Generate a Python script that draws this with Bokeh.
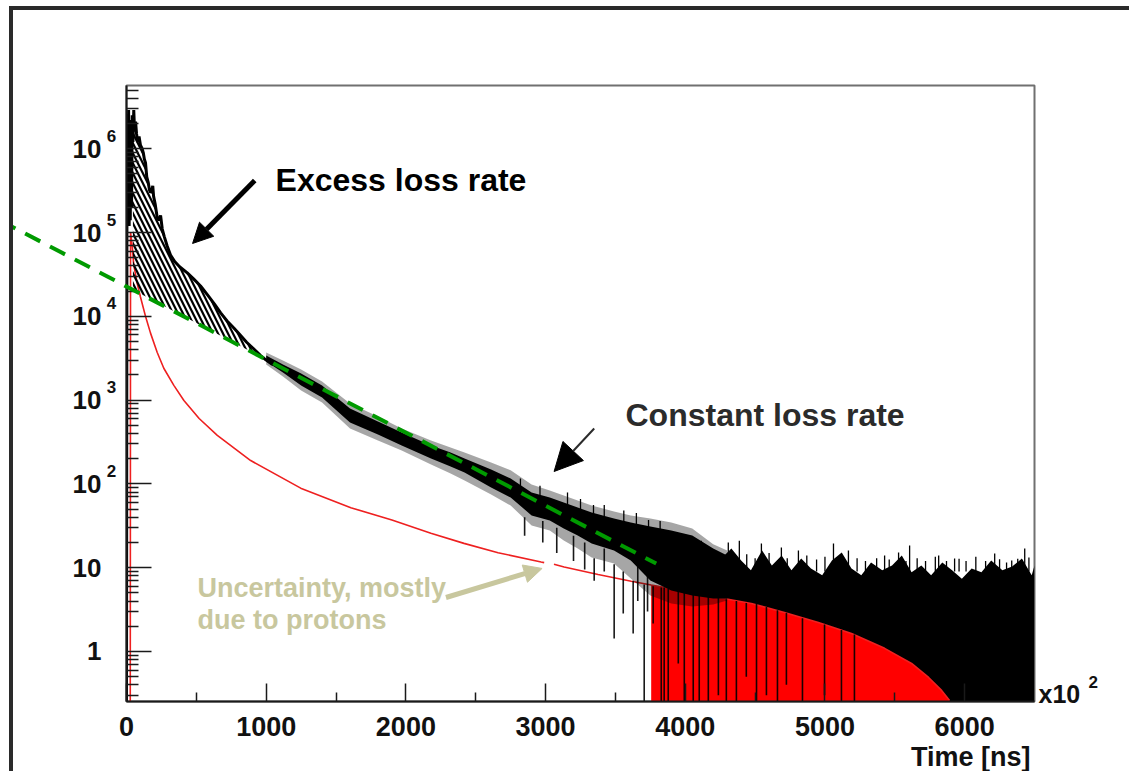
from bokeh.plotting import figure
from bokeh.models import FixedTicker, Label, Arrow, NormalHead
from bokeh.core.properties import value
from bokeh.embed import file_html
from bokeh.resources import INLINE

FONT = "Liberation Sans"

# ---------------- axis ticks ----------------
x_major = [0, 1000, 2000, 3000, 4000, 5000, 6000]
x_minor = [500, 1500, 2500, 3500, 4500, 5500]
y_major = [1, 10, 100, 1000, 10000, 100000, 1000000]
y_labels = ["1", "10", "10", "10", "10", "10", "10"]
y_exp_at = [100, 1000, 10000, 100000, 1000000]
y_exponents = ["2", "3", "4", "5", "6"]

# ---------------- data ----------------
# black histogram, early part (top of the hatched excess)
early_t = [0, 3, 7, 11, 15, 19, 23, 27, 31, 36,
           41, 46, 52, 58, 65, 72, 80, 90, 100, 112,
           120, 128, 136, 145, 155, 165, 172, 180, 188, 194,
           205, 220, 232, 244, 256, 270, 290, 315, 345, 380,
           435, 480, 530, 580, 630, 674, 720, 770, 817, 860,
           910, 960, 1000, 1040, 1080]
early_v = [0.2, 1.1e5, 2.6e6, 1.6e5, 2.9e6, 1.2e5, 2.2e6, 1.4e5, 1.8e6, 2.0e5,
           2.5e6, 1.2e6, 2.9e6, 1.6e6, 2.1e6, 1.5e6, 1.2e6, 1.4e6, 1.1e6, 1.0e6,
           9.0e5, 7.5e5, 6.8e5, 4.6e5, 4.0e5, 3.2e5, 3.0e5, 3.1e5, 3.6e5, 2.7e5,
           2.2e5, 1.5e5, 1.4e5, 1.6e5, 1.1e5, 9.0e4, 7.0e4, 5.4e4, 4.5e4, 3.9e4,
           3.3e4, 2.8e4, 2.3e4, 1.8e4, 1.4e4, 1.1e4, 8.8e3, 7.2e3, 5.9e3, 4.9e3,
           4.1e3, 3.4e3, 3.0e3, 2.7e3, 2.6e3]

# lower edge of the hatched excess (on the constant-loss line)
hatch_floor_t = [46, 1080]
hatch_floor_v = [2.08e4, 2.6e3]

# noisy band of the black histogram: outer (fuzzy) and core envelopes
band_t = [1000, 1120, 1250, 1400, 1600, 1800, 1970, 2180, 2320, 2420,
          2610, 2750, 2900, 3030, 3130, 3230, 3330, 3490, 3610, 3750,
          3900, 4050, 4200, 4300]
band_outer_hi = [3700, 2970, 2317, 1667, 910, 637, 458, 330, 272, 237,
                 180, 145, 98.4, 83.4, 72.7, 63.4, 55.2, 46.9, 42.0, 38.6,
                 34.6, 29.4, 19.0, 16.0]
band_core_hi = [3405, 2660, 2075, 1493, 794, 556, 410, 287, 237, 201,
                149, 116, 78.9, 68.8, 60.0, 52.2, 45.6, 38.6, 34.6, 31.0,
                27.8, 24.2, 17.0, 14.0]
band_core_lo = [2890, 2134, 1493, 1074, 541, 388, 287, 201, 161, 137,
                90.6, 68.8, 42.0, 36.6, 29.4, 24.2, 19.4, 16.0, 12.2, 7.03,
                5.35, 4.66, 4.29, 4.29]
band_outer_lo = [2660, 1914, 1303, 935, 458, 330, 250, 170, 133, 110,
                 74.7, 55.2, 31.9, 27.8, 21.1, 16.9, 13.2, 11.2, 7.43, 4.66,
                 3.74, 3.44, 3.64, 4.06]

# tail of the black histogram (filled down to the axis)
tail_t = [4120, 4190, 4260, 4330, 4400, 4470, 4550, 4620, 4690, 4760,
          4830, 4900, 4980, 5050, 5120, 5190, 5260, 5330, 5410, 5480,
          5550, 5620, 5690, 5760, 5840, 5910, 5980, 6050, 6120, 6190,
          6270, 6340, 6410, 6480, 6500]
tail_hi = [18.0, 16.0, 13.0, 16.9, 12.2, 9.3, 16.0, 10.6, 14.0, 9.3,
           12.9, 9.8, 8.1, 12.2, 15.2, 9.8, 8.1, 11.5, 9.3, 10.6,
           14.0, 8.8, 10.6, 8.1, 11.5, 9.3, 7.4, 9.8, 8.8, 12.2,
           9.3, 10.3, 12.9, 8.1, 10.6]
y_floor = 0.2

# upward spikes of the histogram
up_t = [2820, 2960, 3157, 3250, 3343, 3420, 3560, 3650, 3737, 3820,
        3900, 4115, 4160, 4230, 4308, 4387, 4440, 4500, 4545, 4600,
        4688, 4730, 4810, 4870, 4940, 5000, 5061, 5100, 5168, 5230,
        5290, 5370, 5427, 5460, 5527, 5580, 5606, 5660, 5720, 5790,
        5814, 5870, 5928, 5960, 6010, 6080, 6150, 6215, 6250, 6300,
        6337, 6380, 6430, 6460]
up_v = [116, 95, 79, 66, 56, 56, 48, 45, 37, 36,
        26, 21, 15, 13, 20, 21, 14.5, 13, 19.4, 15,
        17.4, 13, 16, 14, 12.5, 13.5, 19.4, 12, 16, 13,
        12, 13, 14, 12.5, 15.2, 12, 18.4, 13, 12, 13.5,
        14, 12, 12.9, 12.8, 12, 13.5, 12, 14.8, 12.6, 11.5,
        12.2, 12.8, 16.9, 13.2]
up_base = [70, 55, 45, 40, 35, 30, 25, 22, 18, 16,
           14, 12, 9, 9, 9, 9, 9, 9, 9, 9,
           9, 9, 9, 9, 9, 9, 9, 9, 9, 9,
           9, 9, 9, 9, 9, 9, 9, 9, 9, 9,
           9, 9, 9, 9, 9, 9, 9, 9, 9, 9,
           9, 9, 9, 9]

# downward spikes (empty / low bins)
down_t = [2850, 2980, 3080, 3200, 3280, 3348, 3420, 3491, 3556, 3627,
          3660, 3706, 3730, 3770, 3828, 3849, 3878, 3950, 3993, 4057,
          4100, 4165, 4237, 4294, 4366, 4437, 4510, 4581, 4660, 4724,
          4839, 4997, 5118, 5211]
down_hi = [40, 36, 30, 24, 20, 13, 17, 11, 9, 7,
           12, 6.3, 8, 6, 5.8, 5.8, 5.6, 5.3, 5.2, 4.9,
           4.7, 4.5, 4.4, 4.2, 4.0, 3.8, 3.7, 3.4, 3.1, 2.9,
           2.5, 2.1, 1.8, 1.6]
down_lo = [24, 20, 15, 12, 9.5, 7.0, 9, 1.43, 2.84, 1.64,
           4, 0.2, 3, 2.16, 0.2, 0.2, 0.2, 0.72, 0.2, 0.2,
           0.2, 0.2, 0.3, 0.2, 0.2, 0.5, 0.2, 0.3, 0.2, 0.4,
           0.2, 0.3, 0.2, 0.25]

# red curve (expected loss), with the gap of the uncertainty
red_t = [27, 29, 41, 52, 76, 100, 136, 172, 220, 267,
         339, 411, 520, 650, 889, 1247, 1606, 1900, 2179, 2416,
         2660, 2968, 2990, float("nan"), 3060, 3133, 3376, 3613, 3756, 3993,
         4237, 4473, 4710, 4953, 5190, 5427, 5620, 5742, 5835, 5892]
red_v = [0.2, 1.0e5, 6.9e4, 4.1e4, 2.5e4, 1.7e4, 1.0e4, 6.3e3, 3.7e3, 2.4e3,
         1.5e3, 990, 603, 380, 190, 89, 52, 37, 25.7, 19.5,
         15.1, 11.7, 11.5, float("nan"), 11.0, 10.2, 8.3, 6.9, 6.2, 5.3,
         4.41, 3.74, 2.92, 2.22, 1.64, 1.09, 0.72, 0.49, 0.343, 0.26]
red_fill_start = 3740

# constant loss rate line (dashed green)
green_t = [-903, 3792]
green_v = [1.39e5, 11.2]

# ---------------- figure ----------------
p = figure(width=1120, height=765, x_range=(0, 6500), y_range=(0.253, 5.68e6),
           y_axis_type="log", output_backend="svg", toolbar_location=None,
           min_border_left=113, min_border_right=99, min_border_top=75,
           min_border_bottom=74, background_fill_color="white",
           border_fill_color="white")
# the slide frame around the chart
p.styles = {"margin-left": "9px", "margin-top": "6px",
            "border-left": "4px solid #2a2a2a", "border-top": "4px solid #2a2a2a"}
p.grid.visible = False
p.outline_line_color = "#707070"
p.outline_line_width = 2

xa = p.xaxis[0]
xa.ticker = FixedTicker(ticks=x_major, minor_ticks=x_minor)
xa.major_tick_in = 18
xa.major_tick_out = 0
xa.minor_tick_in = 9
xa.minor_tick_out = 0
xa.axis_line_width = 2
xa.axis_line_color = "#1a1a1a"
xa.major_tick_line_color = "#1a1a1a"
xa.minor_tick_line_color = "#1a1a1a"
xa.major_tick_line_width = 1.5
xa.minor_tick_line_width = 1.5
xa.major_label_text_font = FONT
xa.major_label_text_font_style = "bold"
xa.major_label_text_font_size = "27px"
xa.major_label_text_color = "#111111"
xa.major_label_standoff = 15

y_minor = []
for k in range(-1, 7):
    for m in range(2, 10):
        y_minor.append(m * 10.0 ** k)

ya = p.yaxis[0]
ya.ticker = FixedTicker(ticks=y_major, minor_ticks=y_minor)
ya.major_tick_in = 25
ya.major_tick_out = 0
ya.minor_tick_in = 12
ya.minor_tick_out = 0
ya.axis_line_width = 2
ya.axis_line_color = "#1a1a1a"
ya.major_tick_line_color = "#1a1a1a"
ya.minor_tick_line_color = "#1a1a1a"
ya.major_tick_line_width = 1.5
ya.minor_tick_line_width = 1.5
ya.major_label_text_font = FONT
ya.major_label_text_font_style = "bold"
ya.major_label_text_font_size = "26px"
ya.major_label_text_color = "#111111"
ya.major_label_standoff = 25
ya.major_label_overrides = {t: s for t, s in zip(y_major, y_labels)}

# exponents of the y tick labels (unclipped text glyphs)
p.text(x=[0] * len(y_exp_at), y=y_exp_at, text=y_exponents, x_offset=-15, y_offset=-13,
       text_align="center", text_baseline="middle", text_font=value(FONT),
       text_font_style="bold", text_font_size="17px", text_color="#111111",
       level="overlay")

# ---------------- data marks ----------------
p.varea(x=tail_t, y1=[y_floor] * len(tail_t), y2=tail_hi, fill_color="black")

fill_t = [t for t in red_t if t >= red_fill_start]
fill_v = [v for t, v in zip(red_t, red_v) if t >= red_fill_start]
p.varea(x=fill_t, y1=[y_floor] * len(fill_t), y2=fill_v, fill_color="#ff0000")

p.line(red_t, red_v, line_color="#ee2020", line_width=1.6)

p.varea(x=band_t, y1=band_outer_lo, y2=band_outer_hi, fill_color="black", fill_alpha=0.35)
p.varea(x=band_t, y1=band_core_lo, y2=band_core_hi, fill_color="black")
p.segment(x0=up_t, y0=up_base, x1=up_t, y1=up_v, line_color="black", line_width=1.3)
p.segment(x0=down_t, y0=down_hi, x1=down_t, y1=down_lo, line_color="black",
          line_width=1.6, line_alpha=0.9)

hx = [t for t in early_t if t >= hatch_floor_t[0]] + hatch_floor_t[::-1]
hy = [v for t, v in zip(early_t, early_v) if t >= hatch_floor_t[0]] + hatch_floor_v[::-1]
p.patch(hx, hy, fill_alpha=0, line_alpha=0, hatch_pattern="\\",
        hatch_color="black", hatch_scale=10, hatch_weight=2.2)

p.line(early_t, early_v, line_color="black", line_width=3)

# constant loss rate (dashed green), allowed to run past the frame
p.line(green_t, green_v, line_color="#009a00", line_width=4, line_dash="17 11",
       level="overlay")

# ---------------- annotations ----------------
p.add_layout(Arrow(x_start=918, y_start=4.18e5, x_end=473, y_end=7.4e4,
                   line_color="black", line_width=5,
                   end=NormalHead(size=20, fill_color="black", line_color="black")))
p.add_layout(Label(x=1067, y=4.29e5, text="Excess loss rate", text_font=FONT,
                   text_font_style="bold", text_font_size="32px", text_color="black",
                   text_baseline="alphabetic"))

p.add_layout(Arrow(x_start=3348, y_start=458, x_end=3061, y_end=140.6,
                   line_color="#2b2b2b", line_width=2,
                   end=NormalHead(size=28, fill_color="black", line_color="black")))
p.add_layout(Label(x=3572, y=655, text="Constant loss rate", text_font=FONT,
                   text_font_style="bold", text_font_size="32px", text_color="#2b2b2b",
                   text_baseline="alphabetic"))

KHAKI = "#c8c79e"
p.add_layout(Arrow(x_start=2287, y_start=4.41, x_end=2975, y_end=9.8,
                   line_color=KHAKI, line_width=5,
                   end=NormalHead(size=18, fill_color=KHAKI, line_color=KHAKI)))
p.add_layout(Label(x=508, y=5.8, text="Uncertainty, mostly", text_font=FONT,
                   text_font_style="bold", text_font_size="27px", text_color=KHAKI,
                   text_baseline="alphabetic"))
p.add_layout(Label(x=508, y=2.4, text="due to protons", text_font=FONT,
                   text_font_style="bold", text_font_size="27px", text_color=KHAKI,
                   text_baseline="alphabetic"))

# axis title and multiplier (unclipped text glyphs below / right of the frame)
p.text(x=[6500], y=[0.253], text=["Time [ns]"], x_offset=-4, y_offset=55,
       text_align="right", text_baseline="middle", text_font=value(FONT),
       text_font_style="bold", text_font_size="27px", text_color="#111111",
       level="overlay")
p.text(x=[6500], y=[0.253], text=["x10"], x_offset=4, y_offset=-8,
       text_align="left", text_baseline="middle", text_font=value(FONT),
       text_font_style="bold", text_font_size="25px", text_color="#111111",
       level="overlay")
p.text(x=[6500], y=[0.253], text=["2"], x_offset=54, y_offset=-20,
       text_align="left", text_baseline="middle", text_font=value(FONT),
       text_font_style="bold", text_font_size="17px", text_color="#111111",
       level="overlay")

open("out.html", "w").write(file_html(p, INLINE))
